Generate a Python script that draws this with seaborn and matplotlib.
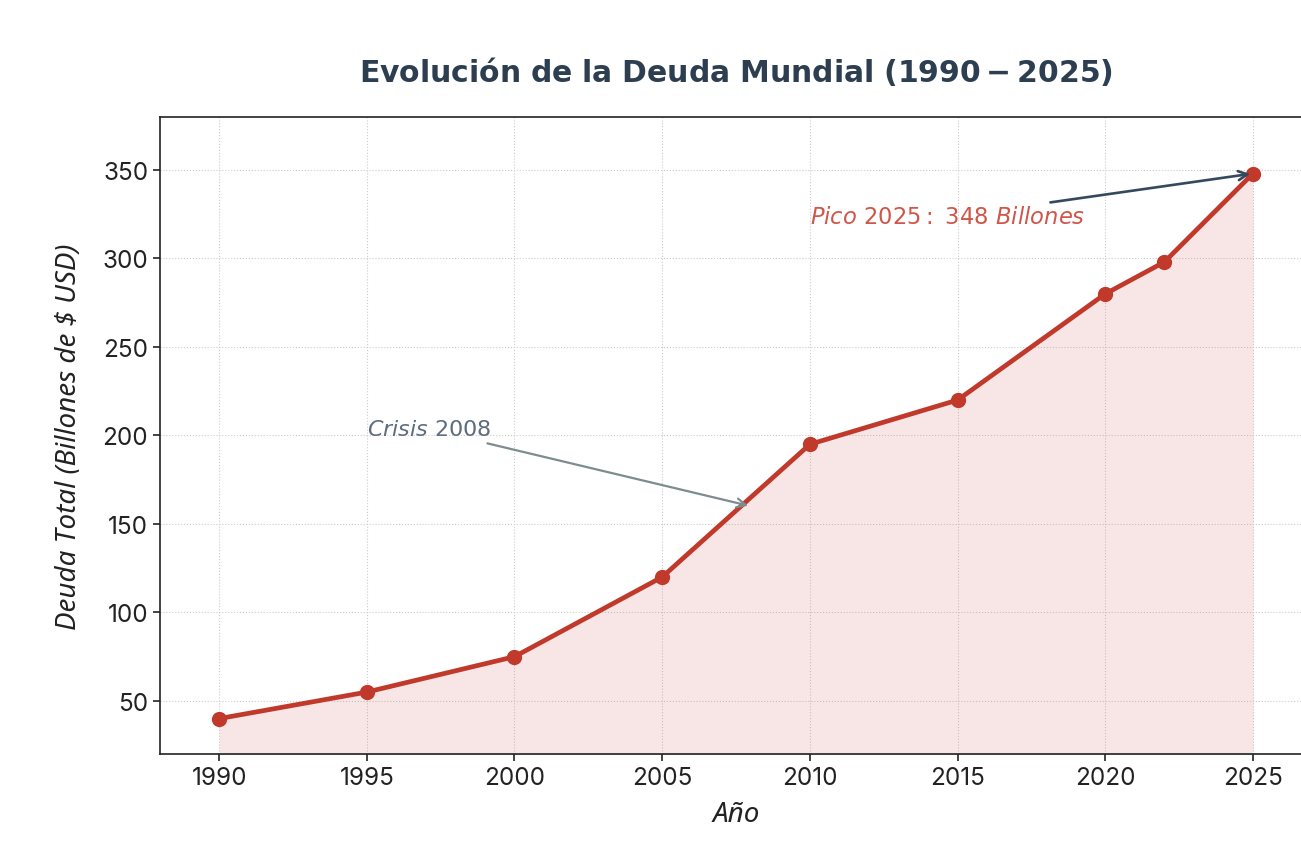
import pandas as pd
import seaborn as sns
import matplotlib.pyplot as plt

# ---------------------------------------
# Data
# ---------------------------------------
years = [1990, 1995, 2000, 2005, 2010, 2015, 2020, 2022, 2025]
debt = [40, 55, 75, 120, 195, 220, 280, 298, 348]
x_ticks = [1990, 1995, 2000, 2005, 2010, 2015, 2020, 2025]
y_ticks = [50, 100, 150, 200, 250, 300, 350]

df = pd.DataFrame({'year': years, 'debt': debt})

# ---------------------------------------
# Styling
# ---------------------------------------
sns.set_style("whitegrid", {
    'grid.linestyle': ':',
    'grid.color': '#cccccc',
    'axes.edgecolor': '#222222',
})
plt.rcParams['font.family'] = ['Inter', 'DejaVu Sans']

fig = plt.figure(figsize=(13.01, 8.45), dpi=100)
ax = fig.add_axes([0.123, 0.1065, 0.8855, 0.754])

# ---------------------------------------
# Line + area
# ---------------------------------------
ax.fill_between(df['year'], df['debt'], 0, color='#c0392b', alpha=0.12, linewidth=0)
sns.lineplot(
    data=df, x='year', y='debt', ax=ax,
    color='#c0392b', linewidth=3.4,
    marker='o', markersize=11, markeredgewidth=0
)

ax.set_xlim(1988, 2027)
ax.set_ylim(20, 380)
ax.set_xticks(x_ticks)
ax.set_yticks(y_ticks)
ax.tick_params(axis='both', labelsize=17.5, colors='#222222', length=5, width=1.2,
               bottom=True, left=True)
for s in ax.spines.values():
    s.set_linewidth(1.2)

# ---------------------------------------
# Annotations
# ---------------------------------------
ax.annotate(r'$Crisis\ 2008$', xy=(2008, 160), xytext=(1995, 200),
            fontsize=16, color='#5d6d7e',
            arrowprops=dict(arrowstyle='->', color='#7f8c8d', lw=1.6))
ax.annotate(r'$Pico\ 2025:\ 348\ Billones$', xy=(2025, 348), xytext=(2010, 320),
            fontsize=16.3, color='#d0564a',
            arrowprops=dict(arrowstyle='->', color='#34495e', lw=1.9))

# ---------------------------------------
# Titles and Labels
# ---------------------------------------
ax.set_title(r'$\bf{Evolución\ de\ la\ Deuda\ Mundial\ (1990-2025)}$',
             fontsize=21.5, color='#2c3e50', pad=26)
ax.set_xlabel('Año', fontsize=20, style='italic', family='Noto Sans', color='#222222',
              labelpad=8)
ax.set_ylabel('Deuda Total (Billones de $ USD)', fontsize=20, style='italic',
              family='Noto Sans', color='#222222', labelpad=14)

# ---------------------------------------
# Save Output
# ---------------------------------------
plt.savefig('out.png', dpi=100)
plt.close()
